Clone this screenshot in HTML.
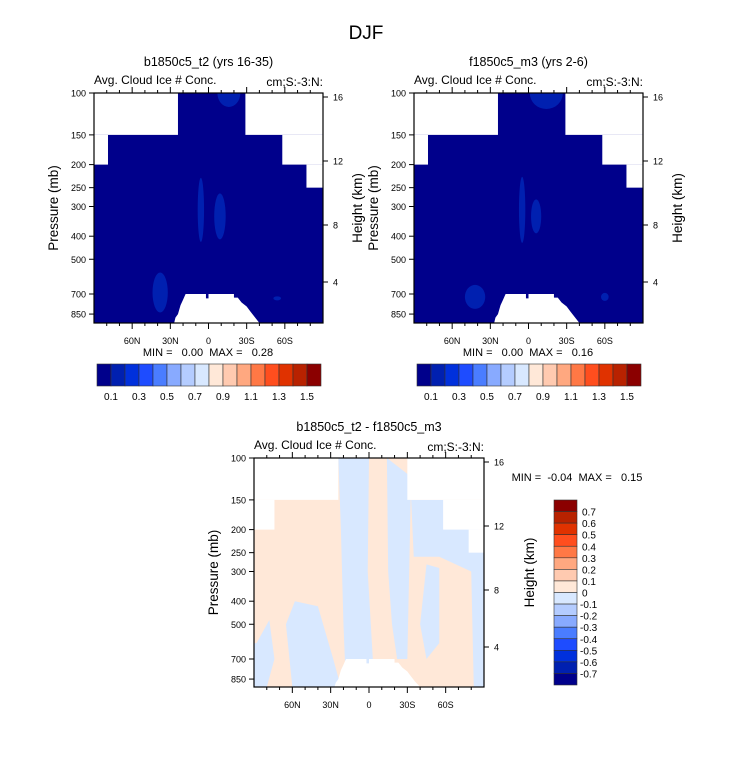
<!DOCTYPE html>
<html><head><meta charset="utf-8">
<style>
body{margin:0;background:#fff;}
svg{display:block;font-family:"Liberation Sans",sans-serif;}
text{white-space:pre;}
</style></head>
<body>
<svg id="fig" width="733" height="784" viewBox="0 0 733 784">
<text x="366" y="39" font-size="19" text-anchor="middle">DJF</text>
</svg>
<script>
const NS="http://www.w3.org/2000/svg";
const svg=document.getElementById('fig');
const colors=['#00008B','#0020B0','#0030DC','#1E4CFF','#4A7DFF','#88AAFF','#B4CCFF','#D8E8FF','#FFE8D8','#FFCAB0','#FFA880','#FF7845','#FF4E1E','#E03200','#B82200','#8B0000'];
const pLevels=[100,150,200,250,300,400,500,700,850];
const hLevels=[16,12,8,4];
const latTicks=[60,30,0,-30,-60];
const latLabels=['60N','30N','0','30S','60S'];
const topCbarLabels=['0.1','0.3','0.5','0.7','0.9','1.1','1.3','1.5'];
const diffCbarLabels=['0.7','0.6','0.5','0.4','0.3','0.2','0.1','0','-0.1','-0.2','-0.3','-0.4','-0.5','-0.6','-0.7'];
// missing (white) regions: [latFrom, latTo, pTop, pBottom]
const maskTop=[[90,24,100,150],[90,79,150,200],[-29,-90,100,150],[-58,-90,150,200],[-77,-90,200,250]];
const maskDiff=[[90,24,100,150],[90,74,150,200],[-30,-90,100,150],[-58,-90,150,200],[-78,-90,200,250]];
// surface mask polygon [lat,p]
const ground=[[27,930],[26,880],[24,850],[22,780],[20,740],[18,700],[2,700],[2,730],[0,730],[0,700],[-20,700],[-20,725],[-23,725],[-26,760],[-30,790],[-33,830],[-36,870],[-40,930]];
// patches [lat, p, rlat, ry px, colorIndex]
const patchesA=[[6,310,2.5,32,1],[-9,330,4.5,23,1],[38,690,6,20,1],[-54,730,3,2,1],[-16,100,9,14,1]];
const patchesB=[[5,310,2.5,33,1],[-6,330,4,17,1],[42,720,8,12,1],[-60,720,3,4,1],[-14,100,13,16,1]];

let clipN=0;
function el(tag,attrs,name,parent){const e=document.createElementNS(NS,tag);for(const k in attrs)e.setAttribute(k,attrs[k]);


(parent||svg).appendChild(e);return e;}
function txt(x,y,s,size,anchor,name,extra){const t=el('text',Object.assign({x:x,y:y,'font-size':size,'text-anchor':anchor},extra||{}),name);t.textContent=s;return t;}

function panel(x0,y0,W,H,opts){
  const k=103.3;
  const X=lat=>x0+(90-lat)/180*W;
  const Y=p=>Math.min(y0+H,y0+k*Math.log(p/100));
  const id='clip'+(clipN++);
  const cp=el('clipPath',{id:id},'clip-region');
  el('rect',{x:x0,y:y0,width:W,height:H},'clip-rect',cp);
  const g=el('g',{'clip-path':'url(#'+id+')'},opts.name);
  el('rect',{x:x0,y:y0,width:W,height:H,fill:opts.base},'field-fill',g);
  if(opts.bands){opts.bands.forEach(b=>{
    el('polygon',{points:b.pts.map(q=>X(q[0])+','+Y(q[1])).join(' '),fill:b.c},'contour-band',g);});}
  if(opts.patches){opts.patches.forEach(q=>{
    el('ellipse',{cx:X(q[0]),cy:Y(q[1]),rx:q[2]*W/180,ry:q[3],fill:colors[q[4]]},'contour-patch',g);});}
  opts.mask.forEach(m=>{el('rect',{x:X(m[0]),y:Y(m[2]),width:X(m[1])-X(m[0]),height:Y(m[3])-Y(m[2]),fill:'#fff'},'missing-region',g);});
  el('polygon',{points:ground.map(q=>X(q[0])+','+Y(q[1])).join(' '),fill:'#fff'},'surface-mask',g);
  el('rect',{x:x0,y:y0,width:W,height:H,fill:'none',stroke:'#000','stroke-width':1.2},'plot-frame');
  pLevels.forEach(p=>{const y=Y(p);el('line',{x1:x0-5,y1:y,x2:x0,y2:y,stroke:'#000'},'y-tick');
    txt(x0-8,y+3.5,String(p),9,'end','y-tick-label');});
  const hy={16:y0+4,12:y0+68,8:y0+132,4:y0+189};
  hLevels.forEach(h=>{el('line',{x1:x0+W,y1:hy[h],x2:x0+W+5,y2:hy[h],stroke:'#000'},'right-tick');
    txt(x0+W+10,hy[h]+3.5,String(h),9,'start','right-tick-label');});
  for(let lat=80;lat>=-80;lat-=10){const major=lat%30===0;
    el('line',{x1:X(lat),y1:y0+H,x2:X(lat),y2:y0+H+(major?6:3),stroke:'#000'},'x-tick');
    el('line',{x1:X(lat),y1:y0,x2:X(lat),y2:y0-(major?6:3),stroke:'#000'},'x-tick-top');}
  latTicks.forEach((l,i)=>txt(X(l),y0+H+21,latLabels[i],9,'middle','x-tick-label'));
  const px=x0-36, hx=x0+W+opts.hOff;
  txt(px,y0+H/2,'Pressure (mb)',13.5,'middle','y-axis-title',{transform:`rotate(-90 ${px} ${y0+H/2})`});
  txt(hx,y0+H/2,'Height (km)',13.5,'middle','right-axis-title',{transform:`rotate(-90 ${hx} ${y0+H/2})`});
  txt(x0+W/2,y0-27,opts.title,12.5,'middle','panel-title');
  txt(x0,y0-9,'Avg. Cloud Ice # Conc.',12,'start','variable-label');
  txt(x0+W,y0-7,'cm;S:-3:N:',12,'end','units-label');
}
function hbar(x0,y0){
  const w=224/16;
  colors.forEach((c,i)=>el('rect',{x:x0+i*w,y:y0,width:w,height:22,fill:c,stroke:'#333','stroke-width':0.6},'colorbar-box'));
  topCbarLabels.forEach((s,i)=>txt(x0+(2*i+1)*w,y0+36,s,10,'middle','colorbar-label'));
}
panel(94,93,229,230,{name:'panel-b1850',title:'b1850c5_t2 (yrs 16-35)',base:colors[0],mask:maskTop,patches:patchesA,hOff:39});
txt(208,356,'MIN =   0.00  MAX =   0.28',11,'middle','min-max-label');
hbar(97,364);
panel(414,93,229,230,{name:'panel-f1850',title:'f1850c5_m3 (yrs 2-6)',base:colors[0],mask:maskTop,patches:patchesB,hOff:39});
txt(528,356,'MIN =   0.00  MAX =   0.16',11,'middle','min-max-label');
hbar(417,364);
const pe=colors[8],lb=colors[7];
panel(254,458,230,229,{name:'panel-diff',title:'b1850c5_t2 - f1850c5_m3',base:pe,mask:maskDiff,hOff:50,bands:[
 {c:lb,pts:[[24,100],[0,100],[1,300],[-3,700],[-6,930],[18,930],[20,500],[22,200]]},
 {c:pe,pts:[[-4,220],[-14,250],[-12,650],[-5,650],[-3,400]]},
 {c:lb,pts:[[-14,100],[-33,120],[-30,700],[-22,700],[-18,500],[-15,300]]},
 {c:lb,pts:[[-33,150],[-80,150],[-90,250],[-90,930],[-82,930],[-80,300],[-55,260],[-35,260]]},
 {c:lb,pts:[[58,400],[40,420],[28,700],[22,930],[60,930],[65,500]]},
 {c:lb,pts:[[88,600],[78,480],[74,700],[80,930],[90,930],[90,600]]},
 {c:lb,pts:[[-45,280],[-55,290],[-55,600],[-45,700],[-40,500]]}
]});
txt(577,481,'MIN =  -0.04  MAX =   0.15',11,'middle','min-max-label');
const vh=185/16;
colors.slice().reverse().forEach((c,i)=>el('rect',{x:554,y:500+i*vh,width:23,height:vh,fill:c,stroke:'#333','stroke-width':0.6},'colorbar-box'));
diffCbarLabels.forEach((s,i)=>txt(s.startsWith('-')?580:582,500+(i+1)*vh+4,s,10,'start','colorbar-label'));
</script>
</body></html>
